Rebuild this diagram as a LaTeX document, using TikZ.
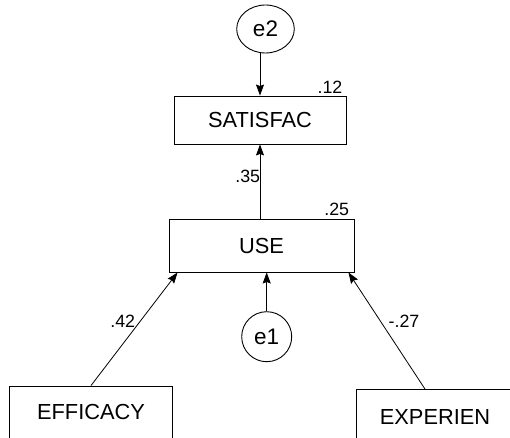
\documentclass[tikz,border=0pt]{standalone}
\usepackage{fontspec}
\setmainfont{Liberation Sans}
\usetikzlibrary{arrows.meta,shapes.geometric}
\begin{document}
\begin{tikzpicture}[x=1bp,y=-1bp,
  obsbox/.style={draw, line width=0.9bp, rectangle, inner sep=0pt,
    font=\fontsize{21.8bp}{26bp}\selectfont},
  errnode/.style={draw, line width=0.9bp, ellipse, inner sep=0pt,
    font=\fontsize{22.5bp}{26bp}\selectfont},
  errcirc/.style={draw, line width=0.9bp, circle, inner sep=0pt,
    font=\fontsize{22.5bp}{26bp}\selectfont},
  coef/.style={inner sep=0pt, font=\fontsize{17.8bp}{21bp}\selectfont},
  regpath/.style={line width=0.8bp, -{Stealth[length=11bp,width=8bp,inset=1.5bp]}}
]
\useasboundingbox (0,0) rectangle (510,438);
\clip (0,0) rectangle (510,438);

% observed variables
\node[obsbox, minimum width=172bp, minimum height=48bp] (sat) at (260,120) {SATISFAC};
\node[obsbox, minimum width=185bp, minimum height=53bp] (use) at (261.5,245.5) {USE};
\node[obsbox, minimum width=163.5bp, minimum height=52bp] (eff) at (91,412) {EFFICACY};
\node[obsbox, minimum width=157bp, minimum height=55bp] (exp) at (435,417) {EXPERIEN};

% error terms
\node[errnode, minimum width=57.6bp, minimum height=48bp] (e2) at (265.5,29) {e2};
\node[errcirc, minimum size=50bp] (e1) at (266.7,336.7) {e1};

% regression paths
\draw[regpath] (sat.north |- e2.south) -- (sat.north);
\draw[regpath] (sat.south |- use.north) -- (sat.south);
\draw[regpath] (e1.north) -- (e1.north |- use.south);
\draw[regpath] (eff.north) -- ([xshift=9bp]use.south west);
\draw[regpath] ([xshift=-10bp]exp.north) -- ([xshift=-6bp]use.south east);

% standardized estimates
\node[coef] (r12) at (330,87) {.12};
\node[coef] (b35) at (247.7,176.7) {.35};
\node[coef] (r25) at (336.7,209.3) {.25};
\node[coef] (b42) at (122.7,321) {.42};
\node[coef] (b27) at (404,321.7) {-.27};
\end{tikzpicture}
\end{document}
